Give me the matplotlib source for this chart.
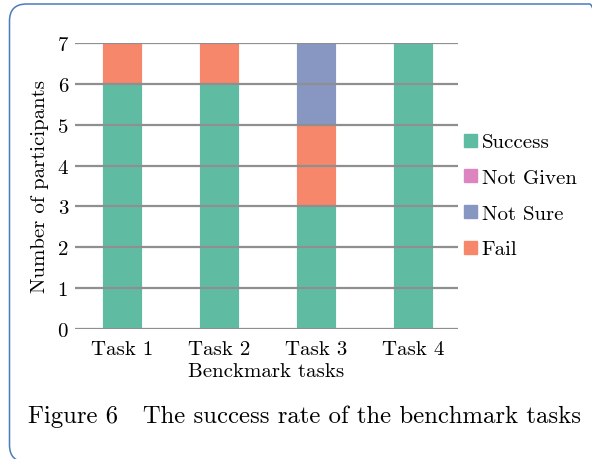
import matplotlib
matplotlib.use('Agg')
import matplotlib.pyplot as plt
import matplotlib.patches as mpatches
from matplotlib.patches import FancyBboxPatch

tasks = ['Task 1', 'Task 2', 'Task 3', 'Task 4']
success = [6, 6, 3, 7]
not_given = [0, 0, 0, 0]
not_sure = [0, 0, 2, 0]
fail = [1, 1, 2, 0]
y_ticks = [0, 1, 2, 3, 4, 5, 6, 7]

c_success = '#5fbca3'
c_given = '#dd85c0'
c_sure = '#8797c2'
c_fail = '#f6876a'

plt.rcParams['font.family'] = ['cmr10', 'DejaVu Serif']
plt.rcParams['axes.unicode_minus'] = False

fig = plt.figure(figsize=(5.92, 4.60), dpi=100)

# rounded frame round the whole figure (in inches, 100 px per inch)
frame = FancyBboxPatch((0.095, -0.03), 5.97, 4.58,
                       boxstyle='round,pad=0,rounding_size=0.17',
                       transform=fig.dpi_scale_trans, facecolor='none',
                       edgecolor='#4a7bbf', linewidth=1.1)
fig.patches.append(frame)

ax = fig.add_axes([75 / 592, 1 - 330 / 460, 383 / 592, 286 / 460])

x = range(len(tasks))
bottom_fail = [s + g for s, g in zip(success, not_given)]
bottom_sure = [b + f for b, f in zip(bottom_fail, fail)]
ax.bar(x, success, width=0.41, color=c_success, edgecolor='white', linewidth=0.6, zorder=1)
ax.bar(x, not_given, bottom=success, width=0.41, color=c_given, edgecolor='white', linewidth=0.6, zorder=1)
ax.bar(x, fail, bottom=bottom_fail, width=0.41, color=c_fail, edgecolor='white', linewidth=0.6, zorder=1)
ax.bar(x, not_sure, bottom=bottom_sure, width=0.41, color=c_sure, edgecolor='white', linewidth=0.6, zorder=1)

for y in y_ticks:
    ax.axhline(y, color='#8f8f8f', linewidth=1.6, zorder=3)

ax.set_xlim(-0.485, 3.46)
ax.set_ylim(0, 7)
ax.set_yticks(y_ticks)
ax.set_yticklabels([str(v) for v in y_ticks], fontsize=15)
ax.set_xticks(list(x))
ax.set_xticklabels(tasks, fontsize=15)
ax.tick_params(axis='y', length=0, pad=5)
ax.tick_params(axis='x', length=0, pad=8)
for s in ax.spines.values():
    s.set_visible(False)
ax.set_ylabel('Number of participants', fontsize=15, labelpad=6)
ax.set_xlabel('Benckmark tasks', fontsize=15, labelpad=3)

handles = [mpatches.Patch(color=c_success, label='Success'),
           mpatches.Patch(color=c_given, label='Not Given'),
           mpatches.Patch(color=c_sure, label='Not Sure'),
           mpatches.Patch(color=c_fail, label='Fail')]
fig.legend(handles=handles, loc='center left', bbox_to_anchor=(464 / 592, 1 - 197 / 460),
           frameon=False, fontsize=15, handlelength=0.6, handleheight=0.6,
           handletextpad=0.25, labelspacing=0.85, borderpad=0, borderaxespad=0)

fig.text(28 / 592, 1 - 417 / 460, 'Figure 6   The success rate of the benchmark tasks',
         fontsize=17.8, va='center', ha='left')

fig.savefig('out.png', dpi=100)
